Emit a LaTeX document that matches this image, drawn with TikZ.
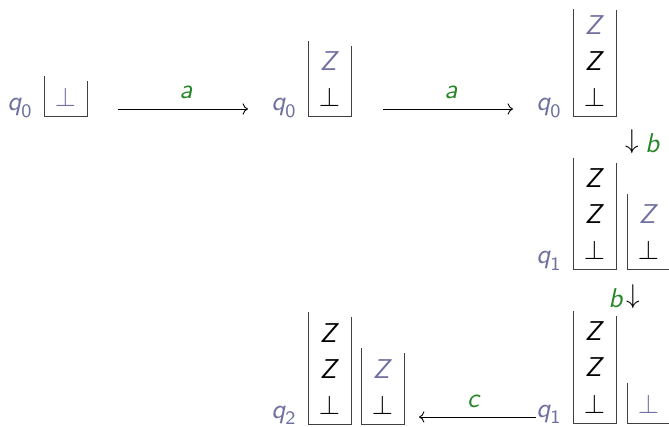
\documentclass[tikz,border=0pt]{standalone}
\usepackage{amsmath}
\usepackage{graphicx}
\usetikzlibrary{arrows.meta}
\definecolor{pq}{RGB}{112,112,160}
\definecolor{gl}{RGB}{40,135,40}
\newcommand\sz[1]{\scalebox{2.72}{#1}}
\newcommand\zz{\sz{\textit{Z}}}
\newcommand\bt{\sz{$\bot$}}
\newcommand\qs[1]{\sz{$\textsf{\itshape q}_{\textsf{#1}}$}}
\newcommand\lt[1]{\sz{\textit{#1}}}
\newcommand\pdstack[4]{%
  \draw[wall] (#1,{#2-35.5*#3-#4}) -- (#1,#2) -- ({#1+43},#2) -- ({#1+43},{#2-35.5*#3});}
\begin{document}
\begin{tikzpicture}[x=1pt,y=-1pt,
  font=\fontsize{10}{12}\selectfont\sffamily,
  wall/.style={draw=black!75, line width=1pt},
  sym/.style={inner sep=0pt, anchor=base},
  st/.style={inner sep=0pt, anchor=base east, text=pq},
  lab/.style={inner sep=0pt, anchor=base, text=gl},
  arr/.style={-{To[scale=1.5]}, line width=0.9pt}]
\useasboundingbox (0,0) rectangle (669,427);

% stacks
\pdstack{44}{117}{1}{5}
\pdstack{308}{117}{2}{5}
\pdstack{573}{117}{3}{1}
\pdstack{573}{270}{3}{5}
\pdstack{627}{270}{2}{5}
\pdstack{573}{423}{3}{5}
\pdstack{627}{423}{1}{5}
\pdstack{308}{424}{3}{5}
\pdstack{361}{424}{2}{5}

% stack contents
\node[sym, text=pq] (s1a) at (65.5,107) {\bt};

\node[sym] (s2a) at (329.5,107) {\bt};
\node[sym, text=pq] (s2b) at (329.5,71) {\zz};

\node[sym] (s3a) at (594.5,107) {\bt};
\node[sym] (s3b) at (594.5,71) {\zz};
\node[sym, text=pq] (s3c) at (594.5,35) {\zz};

\node[sym] (s4a) at (594.5,260) {\bt};
\node[sym] (s4b) at (594.5,224) {\zz};
\node[sym] (s4c) at (594.5,188) {\zz};
\node[sym] (s4d) at (648.5,260) {\bt};
\node[sym, text=pq] (s4e) at (648.5,224) {\zz};

\node[sym] (s5a) at (594.5,413) {\bt};
\node[sym] (s5b) at (594.5,377) {\zz};
\node[sym] (s5c) at (594.5,341) {\zz};
\node[sym, text=pq] (s5d) at (648.5,413) {\bt};

\node[sym] (s6a) at (329.5,414) {\bt};
\node[sym] (s6b) at (329.5,378) {\zz};
\node[sym] (s6c) at (329.5,342) {\zz};
\node[sym] (s6d) at (382.5,414) {\bt};
\node[sym, text=pq] (s6e) at (382.5,378) {\zz};

% states
\node[st] (q1) at (33,111) {\qs{0}};
\node[st] (q2) at (297,111) {\qs{0}};
\node[st] (q3) at (562,111) {\qs{0}};
\node[st] (q4) at (562,264) {\qs{1}};
\node[st] (q5) at (562,417) {\qs{1}};
\node[st] (q6) at (297,418) {\qs{2}};

% arrows
\coordinate (a1s) at (118,109);
\coordinate (a1e) at (248,109);
\coordinate (a2s) at (383,109);
\coordinate (a2e) at (513,109);
\coordinate (ce) at (419,417);
\draw[arr] (a1s) -- (a1e);
\draw[arr] (a2s) -- (a2e);
\draw[arr] (q5.base west) -- (ce);

\node[lab] (la1) at (186,99) {\lt{a}};
\node[lab] (la2) at (451,99) {\lt{a}};
\node[lab] (lc) at (474,407) {\lt{c}};

\node[inner sep=0pt] (d1) at (632,142) {\sz{$\downarrow$}};
\node[lab, anchor=base west] (lb1) at (645,153) {\lt{b}};
\node[inner sep=0pt] (d2) at (633,297) {\sz{$\downarrow$}};
\node[lab] (lb2) at (616,308) {\lt{b}};
\end{tikzpicture}
\end{document}
